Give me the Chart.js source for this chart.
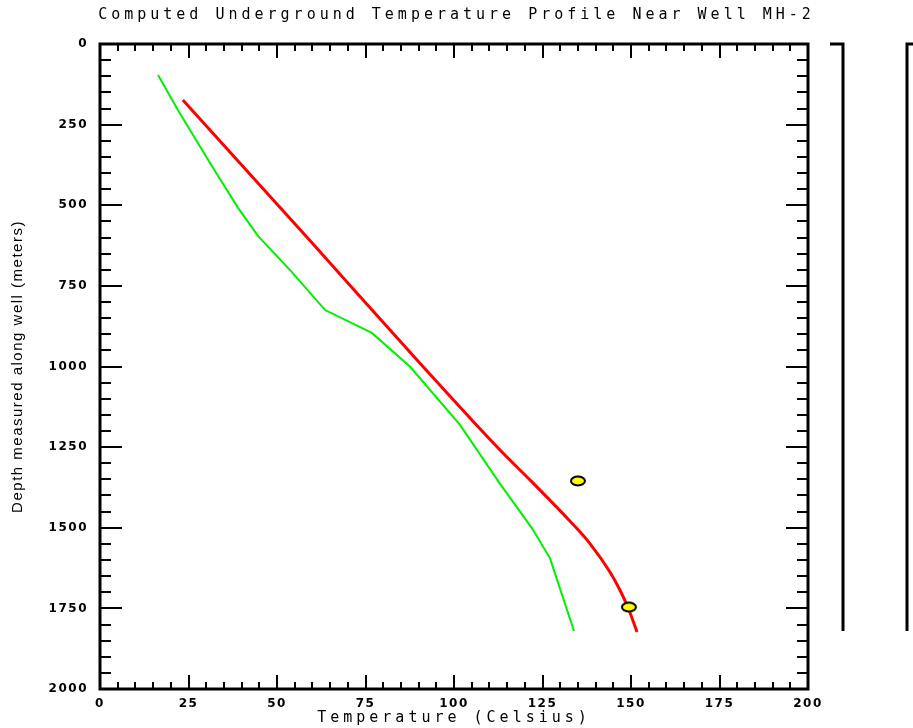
<!DOCTYPE html>
<html>
<head>
<meta charset="utf-8">
<title>MH-2 temperature profile</title>
<script src="https://cdn.jsdelivr.net/npm/chart.js@4.4.0/dist/chart.umd.min.js"></script>
<style>
  html, body { margin: 0; padding: 0; background: #fff; }
</style>
</head>
<body>
<canvas id="myChart" width="913" height="728"></canvas>
<script>
// dati (temperatura in gradi C, profondita in metri)
const redTemp = [23.4, 60, 90, 113.0, 122.3, 132.8, 138.4, 144.1, 147.0, 149.2, 151.7]
const redDepth = [174, 618, 985, 1259, 1361, 1480, 1549, 1638, 1696, 1749, 1823]

const greenTemp = [16.4, 22.0, 31.9, 39.0, 44.6, 53.7, 63.6, 76.8, 87.6, 101.7, 113.0, 122.0, 127.1, 133.9]
const greenDepth = [96, 205, 384, 508, 595, 701, 825, 896, 1001, 1181, 1364, 1501, 1594, 1820]

// punti misurati (ovali gialli)
const measTemp = [135.0, 149.4]
const measDepth = [1355, 1746]

const tempTicks = [0, 25, 50, 75, 100, 125, 150, 175, 200]
const depthTicks = [0, 250, 500, 750, 1000, 1250, 1500, 1750, 2000]
const tempMinor = 5
const depthMinor = 50
const wellDepth = 1820

function toXY(xs, ys) {
  return xs.map((v, i) => ({ x: v, y: ys[i] }))
}

// ovale giallo col bordo nero
const oval = document.createElement('canvas')
oval.width = 18
oval.height = 12
const o = oval.getContext('2d')
o.beginPath()
o.ellipse(9, 6, 7, 4.4, 0, 0, 2 * Math.PI)
o.fillStyle = '#ffff00'
o.fill()
o.lineWidth = 2
o.strokeStyle = '#000'
o.stroke()

// spaziatura lettere: titoli larghi, poi etichette piu strette
const spacingPlugin = {
  id: 'spacing',
  beforeDraw(chart) { chart.ctx.letterSpacing = '4px' },
  afterDatasetsDraw(chart) { chart.ctx.letterSpacing = '1.5px' },
  afterDraw(chart) { chart.ctx.letterSpacing = '0px' }
}

// cornice con tacche interne su tutti e quattro i lati + colonne a destra
const framePlugin = {
  id: 'frame',
  afterDraw(chart) {
    const c = chart.ctx
    const a = chart.chartArea
    const xs = chart.scales.x
    const ys = chart.scales.y
    c.save()
    c.strokeStyle = '#000'
    c.lineWidth = 2
    c.beginPath()
    for (let t = xs.min; t <= xs.max; t += tempMinor) {
      const px = Math.round(xs.getPixelForValue(t))
      const len = t % 25 == 0 ? 14 : 7
      c.moveTo(px, a.bottom); c.lineTo(px, a.bottom - len)
      c.moveTo(px, a.top); c.lineTo(px, a.top + len)
    }
    for (let d = ys.min; d <= ys.max; d += depthMinor) {
      const py = Math.round(ys.getPixelForValue(d))
      const len = d % 250 == 0 ? 22 : 11
      c.moveTo(a.left, py); c.lineTo(a.left + len, py)
      c.moveTo(a.right, py); c.lineTo(a.right - len, py)
    }
    c.stroke()
    c.lineWidth = 3
    c.strokeRect(a.left, a.top, a.right - a.left, a.bottom - a.top)

    // colonne dei pannelli accanto
    const yTop = ys.getPixelForValue(0)
    const yBot = ys.getPixelForValue(wellDepth)
    c.beginPath()
    c.moveTo(a.right + 22, yTop); c.lineTo(a.right + 35, yTop); c.lineTo(a.right + 35, yBot)
    c.moveTo(a.right + 110, yTop); c.lineTo(a.right + 99, yTop); c.lineTo(a.right + 99, yBot)
    c.stroke()
    c.restore()
  }
}

const tickFont = { family: 'DejaVu Sans', size: 12, weight: 'bold' }

const ctx = document.getElementById('myChart').getContext('2d')
const myChart = new Chart(ctx, {
  type: 'scatter',
  data: {
    datasets: [
      {
        label: 'measured',
        data: toXY(measTemp, measDepth),
        pointStyle: oval,
        pointRadius: 7,
        showLine: false
      },
      {
        label: 'computed',
        data: toXY(redTemp, redDepth),
        showLine: true,
        borderColor: '#ff0000',
        borderWidth: 3,
        pointRadius: 0,
        cubicInterpolationMode: 'monotone'
      },
      {
        label: 'other',
        data: toXY(greenTemp, greenDepth),
        showLine: true,
        borderColor: '#00f000',
        borderWidth: 2,
        pointRadius: 0,
        tension: 0
      }
    ]
  },
  options: {
    responsive: false,
    animation: false,
    layout: { padding: 0 },
    plugins: {
      legend: { display: false },
      tooltip: { enabled: false },
      title: {
        display: true,
        text: 'Computed Underground Temperature Profile Near Well MH-2',
        color: '#000',
        font: { family: 'DejaVu Sans Mono', size: 15, weight: 'normal' },
        padding: { top: 6, bottom: 20 }
      }
    },
    scales: {
      x: {
        type: 'linear',
        min: 0,
        max: 200,
        afterBuildTicks: s => { s.ticks = tempTicks.map(v => ({ value: v })) },
        afterFit: s => { s.height = 39 },
        grid: { display: false, drawTicks: false, z: -1 },
        border: { display: false },
        ticks: {
          z: 1,
          padding: 8,
          maxRotation: 0,
          color: '#000',
          font: tickFont,
          callback: v => String(v)
        },
        title: {
          display: true,
          text: 'Temperature (Celsius)',
          color: '#000',
          font: { family: 'DejaVu Sans Mono', size: 15, weight: 'normal' },
          padding: { top: 0, bottom: 1 }
        }
      },
      y: {
        type: 'linear',
        reverse: true,
        min: 0,
        max: 2000,
        afterBuildTicks: s => { s.ticks = depthTicks.map(v => ({ value: v })) },
        afterFit: s => { s.width = 100 },
        grid: { display: false, drawTicks: false, z: 1 },
        border: { display: false },
        ticks: {
          z: 1,
          padding: 12,
          color: '#000',
          font: tickFont,
          callback: v => String(v)
        },
        title: {
          display: true,
          text: 'Depth measured along well (meters)',
          color: '#000',
          font: { family: 'Liberation Sans', size: 15, weight: 'normal' },
          padding: { top: 9, bottom: 0 }
        }
      },
      // spazio vuoto a destra per le colonne dei pannelli accanto
      yr: {
        type: 'linear',
        position: 'right',
        min: 0,
        max: 2000,
        afterFit: s => { s.width = 105 },
        grid: { display: false, drawTicks: false },
        border: { display: false },
        ticks: { display: false }
      }
    }
  },
  plugins: [spacingPlugin, framePlugin]
})
</script>
</body>
</html>
